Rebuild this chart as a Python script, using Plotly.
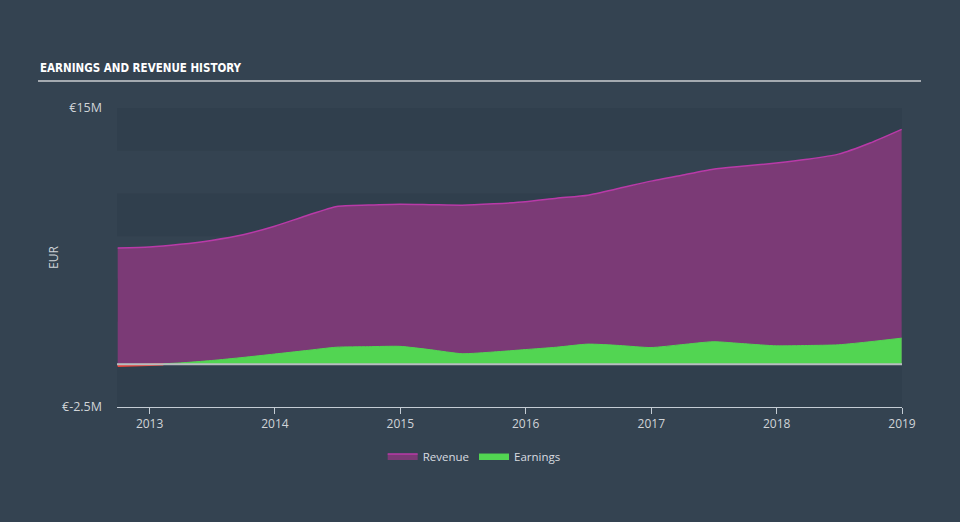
import plotly.graph_objects as go

dates = ["2012-09-30", "2012-12-31", "2013-03-31", "2013-06-30", "2013-09-30", "2013-12-31",
         "2014-03-31", "2014-06-30", "2014-09-30", "2014-12-31",
         "2015-03-31", "2015-06-30", "2015-09-30", "2015-12-31",
         "2016-03-31", "2016-06-30", "2016-09-30", "2016-12-31",
         "2017-03-31", "2017-06-30", "2017-09-30", "2017-12-31",
         "2018-03-31", "2018-06-30", "2018-09-30", "2018-12-31"]
revenue = [6.80, 6.86, 7.02, 7.25, 7.58, 8.08,
           8.68, 9.24, 9.32, 9.37,
           9.34, 9.31, 9.39, 9.51,
           9.72, 9.90, 10.30, 10.72,
           11.07, 11.42, 11.60, 11.78,
           12.00, 12.30, 12.95, 13.75]
earnings = [-0.08, -0.03, 0.08, 0.22, 0.40, 0.60,
            0.80, 1.00, 1.03, 1.05,
            0.85, 0.62, 0.72, 0.86,
            1.00, 1.18, 1.10, 0.98,
            1.15, 1.32, 1.20, 1.08,
            1.10, 1.14, 1.32, 1.53]
y_ticks = [15, -2.5]
y_tick_text = ["€15M", "€-2.5M"]
bands = [(12.5, 15), (7.5, 10), (2.5, 5), (-2.5, 0)]

scale = 1e6
fig = go.Figure()

fig.add_trace(go.Scatter(
    x=dates, y=[r * scale for r in revenue], name="Revenue", mode="lines",
    line=dict(color="#b93aa8", width=1.5, shape="spline", smoothing=0.6),
    fill="tozeroy", fillcolor="#7b3a76", showlegend=True))

pos = [max(e, 0) * scale for e in earnings]
fig.add_trace(go.Scatter(
    x=dates, y=pos, name="Earnings", mode="lines",
    line=dict(color="#52d552", width=1, shape="spline", smoothing=0.6),
    fill="tozeroy", fillcolor="#52d552"))

neg_x = [d for d, e in zip(dates, earnings) if e < 0] + ["2013-02-10"]
neg_y = [e * scale for e in earnings if e < 0] + [0]
fig.add_trace(go.Scatter(
    x=neg_x, y=neg_y, mode="lines", showlegend=False,
    line=dict(color="#e8453c", width=2.5, shape="spline"),
    fill="tozeroy", fillcolor="#e8453c"))

shapes = []
for lo, hi in bands:
    shapes.append(dict(type="rect", xref="paper", yref="y", x0=0, x1=1,
                       y0=lo * scale, y1=hi * scale, fillcolor="#303f4d",
                       line=dict(width=0), layer="below"))
# zero line
shapes.append(dict(type="line", xref="paper", yref="y", x0=0, x1=1, y0=0, y1=0,
                   line=dict(color="#b8bcc0", width=2), layer="above"))
# title underline
shapes.append(dict(type="line", xref="paper", yref="paper",
                   x0=(38 - 117) / 785, x1=(921 - 117) / 785,
                   y0=(407 - 81) / 299, y1=(407 - 81) / 299,
                   line=dict(color="#a4aab0", width=2)))

fig.update_layout(
    width=960, height=522,
    margin=dict(l=117, r=58, t=108, b=115),
    paper_bgcolor="#344351", plot_bgcolor="#344351",
    shapes=shapes,
    font=dict(family="Open Sans", color="#d0d4d8", size=12),
    showlegend=True,
    legend=dict(orientation="h", x=0.455, xanchor="center", y=-0.164, yanchor="middle",
                font=dict(size=11.5, color="#d8dce0"), bgcolor="rgba(0,0,0,0)",
                itemwidth=30, traceorder="normal"),
    annotations=[dict(text="<b>EARNINGS AND REVENUE HISTORY</b>", xref="paper", yref="paper",
                      x=(38 - 117) / 785, y=(407 - 68) / 299, xanchor="left", yanchor="middle",
                      showarrow=False,
                      font=dict(family="DejaVu Sans Condensed, DejaVu Sans", size=11.5, color="#ffffff"))],
)

fig.update_xaxes(
    type="date", range=["2012-09-28", "2019-01-01"],
    tickformat="%Y", dtick="M12", tick0="2013-01-01",
    showgrid=False, zeroline=False,
    showline=True, linecolor="#c4ccd4", linewidth=1,
    ticks="outside", ticklen=6, tickcolor="#c4ccd4",
    tickfont=dict(size=12, color="#d0d4d8"))

fig.update_yaxes(
    range=[-2.5 * scale, 15 * scale],
    tickvals=[t * scale for t in y_ticks], ticktext=y_tick_text,
    showgrid=False, zeroline=False, showline=False,
    ticklabelstandoff=14,
    tickfont=dict(size=12.5, color="#d0d4d8"),
    title=dict(text="EUR", standoff=0, font=dict(size=12, color="#d0d4d8")))

fig.write_html("out.html")
